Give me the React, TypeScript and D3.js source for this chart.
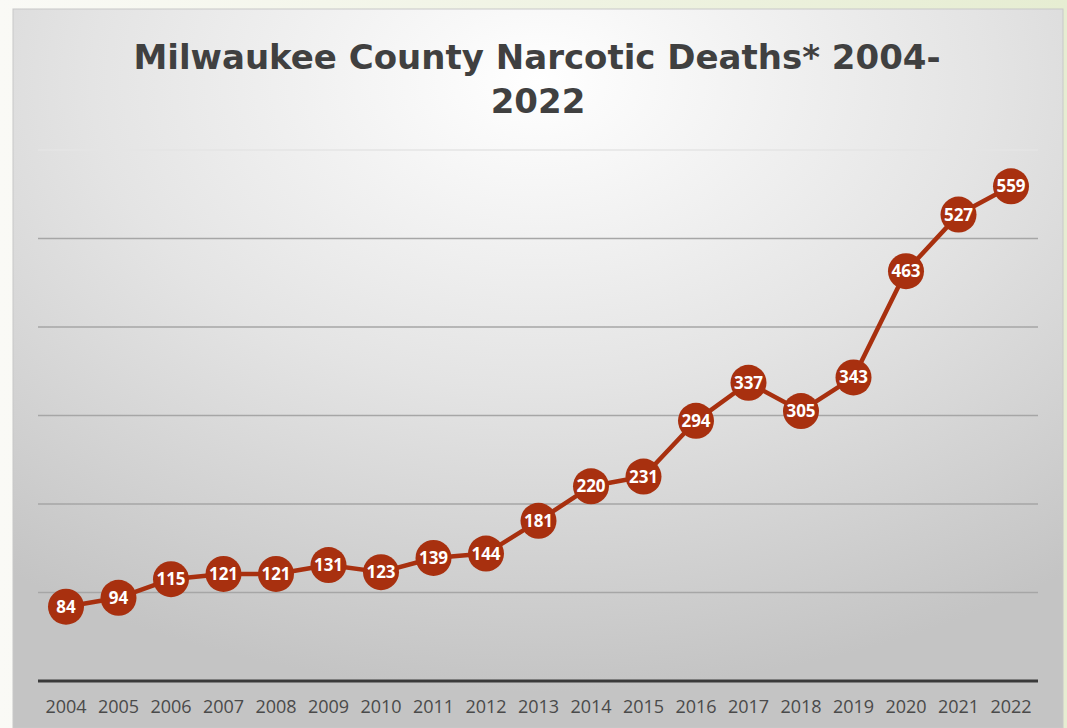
import React from "react";
import * as d3 from "d3";

const years = ["2004","2005","2006","2007","2008","2009","2010","2011","2012","2013","2014","2015","2016","2017","2018","2019","2020","2021","2022"];
const deaths = [84,94,115,121,121,131,123,139,144,181,220,231,294,337,305,343,463,527,559];
const yTicks = [100,200,300,400,500,600];
const titleLines = ["Milwaukee County Narcotic Deaths* 2004-", "2022"];

const W = 1067, H = 728;

export default function App() {
  const x = d3.scalePoint<string>().domain(years).range([66, 1011]);
  const y = d3.scaleLinear().domain([0, 600]).range([681, 150]);
  const line = d3.line<number>().x((_, i) => x(years[i])!).y(d => y(d));
  return (
    <svg width={W} height={H} style={{ position: "fixed", left: 0, top: 0 }}>
      <defs>
        <linearGradient id="page" x1="0" y1="0" x2="1" y2="0">
          <stop offset="0" stopColor="#fafaf6" />
          <stop offset="1" stopColor="#e6edd2" />
        </linearGradient>
        <radialGradient id="panel" cx="0.5" cy="0.1" r="0.85" gradientUnits="objectBoundingBox">
          <stop offset="0" stopColor="#ffffff" />
          <stop offset="0.5" stopColor="#e4e4e4" />
          <stop offset="1" stopColor="#c4c4c4" />
        </radialGradient>
      </defs>
      <rect x={0} y={0} width={W} height={H} fill="url(#page)" />
      <rect x={13} y={9} width={1050} height={H - 9} fill="url(#panel)" stroke="#c8c8c8" strokeWidth={1} />
      <g fontFamily="DejaVu Sans" fontWeight="bold" fill="#404040" textAnchor="middle" fontSize={34}>
        <text x={537} y={69}>{titleLines[0]}</text>
        <text x={538} y={113}>{titleLines[1]}</text>
      </g>
      {yTicks.map(t => (
        <line key={t} x1={38} x2={1038} y1={y(t)} y2={y(t)} stroke={t === 600 ? "#e4e4e4" : "#a6a6a6"} strokeWidth={1.5} />
      ))}
      <line x1={38} x2={1038} y1={y(0)} y2={y(0)} stroke="#3a3a3a" strokeWidth={3} />
      {years.map(yr => (
        <text key={yr} x={x(yr)} y={713} textAnchor="middle" fontFamily="Open Sans" fontSize={18} fill="#4a4a4a">{yr}</text>
      ))}
      <path d={line(deaths)!} fill="none" stroke="#a8300f" strokeWidth={4.5} strokeLinejoin="round" />
      {deaths.map((d, i) => (
        <g key={i}>
          <circle cx={x(years[i])} cy={y(d)} r={18} fill="#a8300f" />
          <text x={x(years[i])} y={y(d) + 6} textAnchor="middle" fontFamily="Open Sans" fontWeight="bold" fontSize={17} fill="#ffffff">{d}</text>
        </g>
      ))}
    </svg>
  );
}
